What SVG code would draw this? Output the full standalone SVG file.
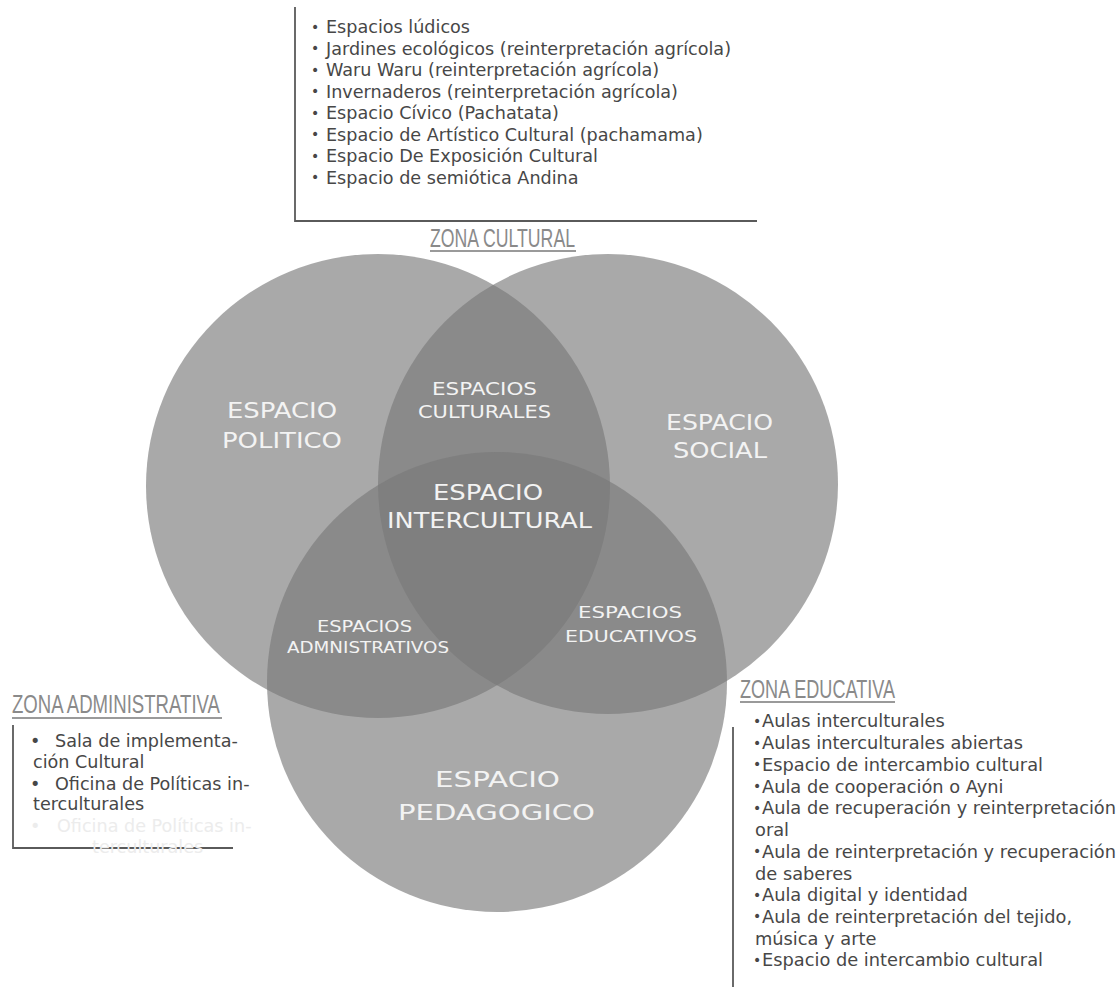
<svg xmlns="http://www.w3.org/2000/svg" width="1118" height="989" viewBox="0 0 1118 989">
<style>
.circ{fill:#797979;fill-opacity:0.64}
.lbl{font-family:"DejaVu Sans",Verdana,sans-serif;fill:#f3f3f3;text-anchor:middle}
.list{font-family:"DejaVu Sans",Verdana,sans-serif;font-size:17.6px;fill:#474747}
.edu{font-size:17.8px}
.adm{font-size:17.6px}
.ghost{fill:#ececec}
.bul{font-size:14px}
.zone{font-family:"Liberation Sans",Arial,sans-serif;font-size:26px;fill:#8a8a8a}
.uline{stroke:#9a9a9a;stroke-width:2;fill:none}
.box{stroke:#5a5a5a;stroke-width:1.8;fill:none}
</style>
<rect width="1118" height="989" fill="#ffffff"/>

<g id="circle-politico">
<circle class="circ" cx="378" cy="486" r="232"/>
<text class="lbl" font-size="21.5" x="282" y="418" textLength="110" lengthAdjust="spacingAndGlyphs">ESPACIO</text>
<text class="lbl" font-size="21.5" x="282" y="448" textLength="120" lengthAdjust="spacingAndGlyphs">POLITICO</text>
</g>

<g id="circle-social">
<circle class="circ" cx="608" cy="484" r="230"/>
<text class="lbl" font-size="20.5" x="719.5" y="430" textLength="107" lengthAdjust="spacingAndGlyphs">ESPACIO</text>
<text class="lbl" font-size="20.5" x="720" y="458" textLength="94" lengthAdjust="spacingAndGlyphs">SOCIAL</text>
</g>

<g id="circle-pedagogico">
<circle class="circ" cx="497" cy="682" r="230"/>
<text class="lbl" font-size="21.5" x="497.5" y="787" textLength="125" lengthAdjust="spacingAndGlyphs">ESPACIO</text>
<text class="lbl" font-size="21.5" x="496.5" y="820" textLength="197" lengthAdjust="spacingAndGlyphs">PEDAGOGICO</text>
</g>

<g id="espacios-culturales">
<text class="lbl" font-size="17" x="484.5" y="395" textLength="105" lengthAdjust="spacingAndGlyphs">ESPACIOS</text>
<text class="lbl" font-size="17" x="484.5" y="418" textLength="133" lengthAdjust="spacingAndGlyphs">CULTURALES</text>
</g>

<g id="espacio-intercultural">
<text class="lbl" font-size="20.5" x="488" y="500" textLength="110" lengthAdjust="spacingAndGlyphs">ESPACIO</text>
<text class="lbl" font-size="20.5" x="489.5" y="528" textLength="205" lengthAdjust="spacingAndGlyphs">INTERCULTURAL</text>
</g>

<g id="espacios-administrativos">
<text class="lbl" font-size="15" x="364.5" y="632" textLength="95" lengthAdjust="spacingAndGlyphs">ESPACIOS</text>
<text class="lbl" font-size="15" x="368" y="653" textLength="162" lengthAdjust="spacingAndGlyphs">ADMNISTRATIVOS</text>
</g>

<g id="espacios-educativos">
<text class="lbl" font-size="16" x="630" y="618" textLength="104" lengthAdjust="spacingAndGlyphs">ESPACIOS</text>
<text class="lbl" font-size="16" x="631" y="642" textLength="132" lengthAdjust="spacingAndGlyphs">EDUCATIVOS</text>
</g>

<g id="zona-cultural">
<path class="box" d="M295 7 V221 H757"/>
<text class="list" x="311" y="33"><tspan class="bul" dy="-1.5">•</tspan><tspan x="326" dy="1.5">Espacios lúdicos</tspan></text>
<text class="list" x="311" y="54.5"><tspan class="bul" dy="-1.5">•</tspan><tspan x="326" dy="1.5">Jardines ecológicos (reinterpretación agrícola)</tspan></text>
<text class="list" x="311" y="76"><tspan class="bul" dy="-1.5">•</tspan><tspan x="326" dy="1.5">Waru Waru (reinterpretación agrícola)</tspan></text>
<text class="list" x="311" y="97.5"><tspan class="bul" dy="-1.5">•</tspan><tspan x="326" dy="1.5">Invernaderos (reinterpretación agrícola)</tspan></text>
<text class="list" x="311" y="119"><tspan class="bul" dy="-1.5">•</tspan><tspan x="326" dy="1.5">Espacio Cívico (Pachatata)</tspan></text>
<text class="list" x="311" y="140.5"><tspan class="bul" dy="-1.5">•</tspan><tspan x="326" dy="1.5">Espacio de Artístico Cultural (pachamama)</tspan></text>
<text class="list" x="311" y="162"><tspan class="bul" dy="-1.5">•</tspan><tspan x="326" dy="1.5">Espacio De Exposición Cultural</tspan></text>
<text class="list" x="311" y="183.5"><tspan class="bul" dy="-1.5">•</tspan><tspan x="326" dy="1.5">Espacio de semiótica Andina</tspan></text>
<text class="zone" x="430" y="247" textLength="145" lengthAdjust="spacingAndGlyphs">ZONA CULTURAL</text>
<line class="uline" x1="430" y1="251" x2="576" y2="251"/>
</g>

<g id="zona-administrativa">
<text class="zone" x="12" y="713" textLength="208" lengthAdjust="spacingAndGlyphs">ZONA ADMINISTRATIVA</text>
<line class="uline" x1="12" y1="718" x2="222" y2="718"/>
<path class="box" d="M13 725 V848 H233"/>
<text class="list adm" x="30" y="747">•<tspan x="55">Sala de implementa-</tspan></text>
<text class="list adm" x="33" y="768">ción Cultural</text>
<text class="list adm" x="30" y="790">•<tspan x="55">Oficina de Políticas in-</tspan></text>
<text class="list adm" x="33" y="810">terculturales</text>
<text class="list adm ghost" x="30" y="832">•<tspan x="57">Oficina de Políticas in-</tspan></text>
<text class="list adm ghost" x="92" y="853">terculturales</text>
</g>

<g id="zona-educativa">
<text class="zone" x="740" y="698" textLength="155" lengthAdjust="spacingAndGlyphs">ZONA EDUCATIVA</text>
<line class="uline" x1="740" y1="702" x2="895" y2="702"/>
<path class="box" d="M733 727 V987"/>
<text class="list edu" x="753" y="727"><tspan class="bul" dy="-1.5">•</tspan><tspan x="762" dy="1.5">Aulas interculturales</tspan></text>
<text class="list edu" x="753" y="749"><tspan class="bul" dy="-1.5">•</tspan><tspan x="762" dy="1.5">Aulas interculturales abiertas</tspan></text>
<text class="list edu" x="753" y="770.5"><tspan class="bul" dy="-1.5">•</tspan><tspan x="762" dy="1.5">Espacio de intercambio cultural</tspan></text>
<text class="list edu" x="753" y="792.5"><tspan class="bul" dy="-1.5">•</tspan><tspan x="762" dy="1.5">Aula de cooperación o Ayni</tspan></text>
<text class="list edu" x="753" y="814"><tspan class="bul" dy="-1.5">•</tspan><tspan x="762" dy="1.5">Aula de recuperación y reinterpretación</tspan></text>
<text class="list edu" x="755" y="836">oral</text>
<text class="list edu" x="753" y="857.5"><tspan class="bul" dy="-1.5">•</tspan><tspan x="762" dy="1.5">Aula de reinterpretación y recuperación</tspan></text>
<text class="list edu" x="755" y="879.5">de saberes</text>
<text class="list edu" x="753" y="901"><tspan class="bul" dy="-1.5">•</tspan><tspan x="762" dy="1.5">Aula digital y identidad</tspan></text>
<text class="list edu" x="753" y="922.5"><tspan class="bul" dy="-1.5">•</tspan><tspan x="762" dy="1.5">Aula de reinterpretación del tejido,</tspan></text>
<text class="list edu" x="755" y="944.5">música y arte</text>
<text class="list edu" x="753" y="966"><tspan class="bul" dy="-1.5">•</tspan><tspan x="762" dy="1.5">Espacio de intercambio cultural</tspan></text>
</g>

<g id="connectors"/>
</svg>
